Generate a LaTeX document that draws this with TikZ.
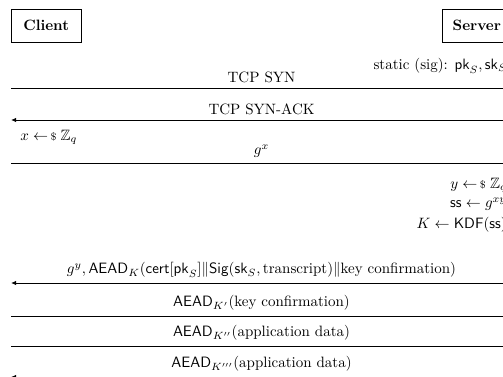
\documentclass[tikz,border=0pt]{standalone}
\usepackage{amsmath,amssymb}
\usetikzlibrary{arrows.meta}
\newcommand{\sampleto}{\mathrel{\leftarrow\mkern-2mu{\scriptstyle\$}}}
\begin{document}
\begin{tikzpicture}[x=0.667pt, y=-0.667pt, >={Latex[length=3.5pt,width=3pt]},
    msg/.style={line width=0.6pt},
    party/.style={draw, font=\bfseries, minimum width=46.5pt, minimum height=22pt}]
    \useasboundingbox (0,0) rectangle (503,377);
    \node[party, anchor=north west] (client) at (11,9) {Client};
    \node[party, anchor=north east] (server) at (512,9) {Server};
    \node[anchor=east] (keys) at (512,66) {static (sig): $\mathsf{pk}_S, \mathsf{sk}_S$};
    \coordinate (c1) at (11,88);  \coordinate (s1) at (512,88);
    \coordinate (c2) at (11,120); \coordinate (s2) at (512,120);
    \coordinate (c3) at (11,163); \coordinate (s3) at (512,163);
    \coordinate (c4) at (11,283); \coordinate (s4) at (512,283);
    \coordinate (c5) at (11,316); \coordinate (s5) at (512,316);
    \coordinate (c6) at (11,346); \coordinate (s6) at (512,346);
    \coordinate (c7) at (11,377); \coordinate (s7) at (512,377);
    \draw[msg, ->] (c1) -- (s1) node[midway, above] (m1) {TCP SYN};
    \draw[msg, <-] (c2) -- (s2) node[midway, above] (m2) {TCP SYN-ACK};
    \node[anchor=west] (xs) at (15,137) {$x \sampleto \mathbb{Z}_q$};
    \draw[msg, ->] (c3) -- (s3) node[midway, above] (m3) {$g^x$};
    \node[anchor=east] (ys) at (512,185) {$y \sampleto \mathbb{Z}_q$};
    \node[anchor=east] (ss) at (512,204) {$\mathsf{ss} \gets g^{xy}$};
    \node[anchor=east] (kdf) at (512,225) {$K \gets \mathsf{KDF}(\mathsf{ss})$};
    \draw[msg, <-] (c4) -- (s4) node[midway, above] (m4) {$g^y, \mathsf{AEAD}_K(\mathsf{cert}[\mathsf{pk}_S]\|\mathsf{Sig}(\mathsf{sk}_S, \text{transcript})\|\text{key confirmation})$};
    \draw[msg, ->] (c5) -- (s5) node[midway, above] (m5) {$\mathsf{AEAD}_{K'}(\text{key confirmation})$};
    \draw[msg, ->] (c6) -- (s6) node[midway, above] (m6) {$\mathsf{AEAD}_{K''}(\text{application data})$};
    \draw[msg, <-] (c7) -- (s7) node[midway, above] (m7) {$\mathsf{AEAD}_{K'''}(\text{application data})$};
\end{tikzpicture}
\end{document}
